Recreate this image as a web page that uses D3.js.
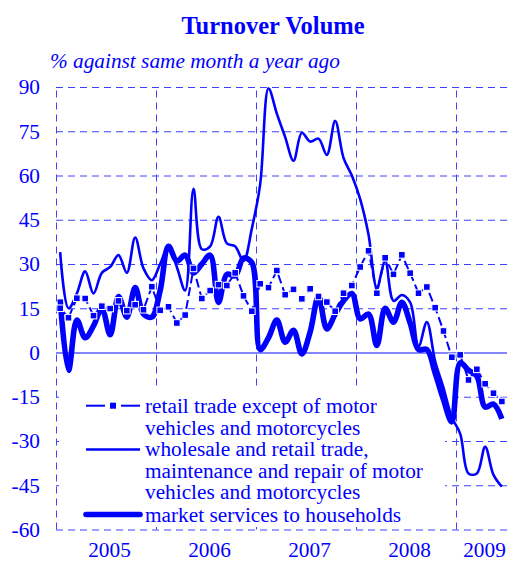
<!DOCTYPE html>
<html>
<head>
<meta charset="utf-8">
<script src="https://cdn.jsdelivr.net/npm/d3@7"></script>
<style>
  html, body { margin: 0; padding: 0; background: #fff; }
  svg { display: block; font-family: "Liberation Serif", "Times New Roman", serif; }
</style>
</head>
<body>
<svg id="chart" width="507" height="561"></svg>
<script>
// ---------- data ----------
const years = ["2005", "2006", "2007", "2008", "2009"];
const monthsPerYear = [12, 12, 12, 12, 6];
const yTicks = [-60, -45, -30, -15, 0, 15, 30, 45, 60, 75, 90];

const retailTrade = [
  15, 11.8, 18.4, 18.3, 12.5, 15.7, 14.9, 17.5, 14.2, 16.2, 14.5, 22.3,
  14.3, 15.5, 10, 12.7, 28.5, 18.3, 21, 23, 22.7, 27, 19.2, 14,
  23.3, 22, 27.8, 19.6, 21.4, 18.2, 21.6, 19, 17.1, 14, 20.1, 22.7,
  29, 34.5, 20.1, 32.1, 26.5, 33.1, 26.9, 20.1, 22.2, 15.2, 7.3, -1.6,
  -0.8, -9.3, -5.7, -10.6, -13.8, -16.6
];
const wholesaleRetail = [
  34, 15, 20, 27.5, 20, 27, 29, 33, 27, 39, 28.5, 24.5,
  30, 36, 29, 21, 55.5, 35, 36, 46, 37, 36, 31, 42,
  57, 89.5, 81, 73, 65, 74.5, 71.5, 72.5, 67, 78.5, 66, 60,
  52, 40, 22, 31, 17.5, 19.5, 17, 2, 10.3, -3, -12, -22,
  -27.5, -41, -41, -32, -41.5, -45.5
];
const marketServices = [
  18, -6, 11, 5, 9, 15, 6, 19, 12, 22, 13, 12,
  21, 36, 31, 33, 27, 30, 33, 17, 26.5, 26, 32, 30.5,
  1, 5, 11, 3.5, 7.5, -0.5, 7, 19, 8, 13, 17.5, 20,
  11.4, 13, 2.4, 15, 10.3, 17, 10, 1, 1, -7, -16, -23.5,
  -3.5, -6, -8, -18.5, -17.5, -22.5
];
const legendLabels = [
  ["retail trade except of motor", "vehicles and motorcycles"],
  ["wholesale and retail trade,", "maintenance and repair of motor", "vehicles and motorcycles"],
  ["market services to households"]
];
const titleText = "Turnover Volume";
const subtitleText = "% against same month a year ago";

// ---------- layout ----------
const blue = "#0000ff";
const gridBlue = "#4040ff";
const fs = 21.3;
const svg = d3.select("#chart");
const W = 507;
const plotLeft = 56, plotTop = 87, plotBottom = 529.5;

const x = d3.scaleLinear().domain([0, 60]).range([plotLeft, plotLeft + 500]);
const y = d3.scaleLinear().domain([-60, 90]).range([plotBottom, plotTop]);
const px = (d, i) => x(i + 0.5);

// title
svg.append("text")
  .attr("x", 273).attr("y", 34)
  .attr("text-anchor", "middle")
  .attr("font-weight", "bold")
  .attr("font-size", 24.5)
  .attr("fill", blue)
  .text(titleText);

svg.append("text")
  .attr("x", 50).attr("y", 68)
  .attr("font-style", "italic")
  .attr("font-size", fs)
  .attr("fill", blue)
  .text(subtitleText);

// horizontal grid + y labels
const yAxis = d3.axisLeft(y)
  .tickValues(yTicks)
  .tickSize(-(W - plotLeft))
  .tickPadding(16)
  .tickFormat(d => String(d));
const gy = svg.append("g").attr("transform", `translate(${plotLeft},0)`).call(yAxis);
gy.select(".domain").remove();
gy.selectAll(".tick line")
  .attr("stroke", d => d === 0 ? "#5c5cff" : gridBlue)
  .attr("stroke-width", d => d === 0 ? 1.5 : 1)
  .attr("stroke-dasharray", d => d === 0 ? null : "7,5");
gy.selectAll(".tick text")
  .attr("font-size", fs)
  .attr("fill", blue)
  .attr("font-family", "Liberation Serif, Times New Roman, serif");

// vertical year grid
const yearStarts = years.map((_, i) => i * 12);
const xGrid = d3.axisBottom(x)
  .tickValues(yearStarts)
  .tickSize(-(plotBottom - plotTop))
  .tickFormat("");
const gx = svg.append("g").attr("transform", `translate(0,${plotBottom})`).call(xGrid);
gx.select(".domain").remove();
gx.selectAll(".tick line")
  .attr("stroke", gridBlue)
  .attr("stroke-width", 1)
  .attr("stroke-dasharray", "7,5");

// year labels
let acc = 0;
const yearCenters = monthsPerYear.map(n => { const c = acc + n / 2; acc += n; return c; });
const xLab = d3.axisBottom(x)
  .tickValues(yearCenters)
  .tickSize(0)
  .tickPadding(0)
  .tickFormat((d, i) => years[i]);
const gl = svg.append("g").attr("transform", `translate(3,${plotBottom})`).call(xLab);
gl.select(".domain").remove();
gl.selectAll(".tick text")
  .attr("y", 27.5)
  .attr("dy", 0)
  .attr("font-size", fs)
  .attr("fill", blue)
  .attr("font-family", "Liberation Serif, Times New Roman, serif");

// legend background
svg.append("rect")
  .attr("x", 59).attr("y", 389)
  .attr("width", 386).attr("height", 138)
  .attr("fill", "#fff");

// lines
const smooth = d3.line().x(px).y(d => y(d)).curve(d3.curveCatmullRom.alpha(0.5));
const straight = d3.line().x(px).y(d => y(d));

svg.append("path").datum(wholesaleRetail)
  .attr("d", smooth).attr("fill", "none")
  .attr("stroke", blue).attr("stroke-width", 2.6)
  .attr("stroke-linejoin", "round");

svg.append("path").datum(marketServices)
  .attr("d", smooth).attr("fill", "none")
  .attr("stroke", blue).attr("stroke-width", 5.6)
  .attr("stroke-linejoin", "round");

svg.append("path").datum(retailTrade)
  .attr("d", straight).attr("fill", "none")
  .attr("stroke", blue).attr("stroke-width", 2)
  .attr("stroke-dasharray", "9,4");

svg.append("g").selectAll("rect").data(retailTrade).join("rect")
  .attr("x", (d, i) => px(d, i) - 3.3)
  .attr("y", d => y(d) - 3.3)
  .attr("width", 6.6).attr("height", 6.6)
  .attr("fill", blue)
  .attr("stroke", "#fff").attr("stroke-width", 1);

// legend
const lg = svg.append("g");
const textX = 145, lineH = 21.7;
const rowBase = [413, 456, 521.7];
const sampleY = [405.7, 449.5, 514.5];
legendLabels.forEach((lines, k) => {
  lines.forEach((t, j) => {
    lg.append("text")
      .attr("x", textX).attr("y", rowBase[k] + j * lineH)
      .attr("font-size", fs).attr("fill", blue)
      .text(t);
  });
});
lg.append("line").attr("x1", 86).attr("x2", 105).attr("y1", sampleY[0]).attr("y2", sampleY[0])
  .attr("stroke", blue).attr("stroke-width", 2);
lg.append("line").attr("x1", 121).attr("x2", 140).attr("y1", sampleY[0]).attr("y2", sampleY[0])
  .attr("stroke", blue).attr("stroke-width", 2);
lg.append("rect").attr("x", 110).attr("y", sampleY[0] - 3).attr("width", 6).attr("height", 6).attr("fill", blue);
lg.append("line").attr("x1", 86).attr("x2", 140).attr("y1", sampleY[1]).attr("y2", sampleY[1])
  .attr("stroke", blue).attr("stroke-width", 2.6);
lg.append("line").attr("x1", 86).attr("x2", 140).attr("y1", sampleY[2]).attr("y2", sampleY[2])
  .attr("stroke", blue).attr("stroke-width", 5.6).attr("stroke-linecap", "round");
</script>
</body>
</html>
